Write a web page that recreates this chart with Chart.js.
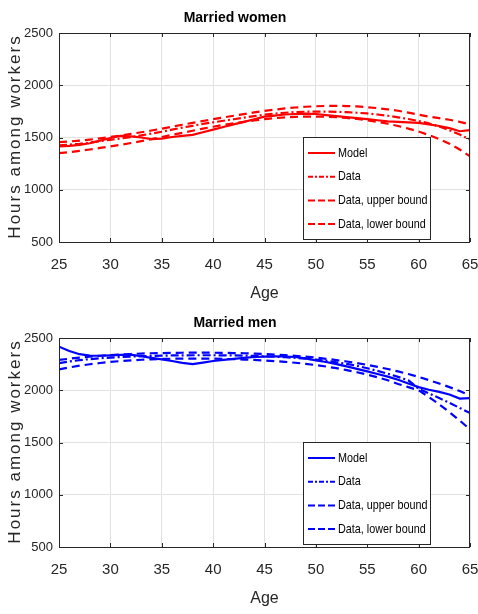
<!DOCTYPE html>
<html>
<head>
<meta charset="utf-8">
<script src="https://cdn.jsdelivr.net/npm/chart.js@4.4.0/dist/chart.umd.min.js"></script>
<style>
  html, body { margin: 0; padding: 0; background: #fff; }
  #wrap { position: relative; width: 478px; height: 614px; }
  .panel { position: absolute; left: 0; width: 478px; height: 307px; }
</style>
</head>
<body>
<div id="wrap">
  <div class="panel" style="top:0"><canvas id="womenChart" width="478" height="307"></canvas></div>
  <div class="panel" style="top:305px"><canvas id="menChart" width="478" height="307"></canvas></div>
</div>
<script>
// Values, one per year of age
const ages = [25, 26, 27, 28, 29, 30, 31, 32, 33, 34, 35, 36, 37, 38, 39, 40, 41, 42, 43, 44, 45,
  46, 47, 48, 49, 50, 51, 52, 53, 54, 55, 56, 57, 58, 59, 60, 61, 62, 63, 64, 65];

const womenModel = [1415, 1420, 1430, 1445, 1470, 1495, 1515, 1510, 1500, 1485, 1490, 1505, 1515, 1525, 1550, 1575,
  1600, 1625, 1650, 1675, 1700, 1710, 1720, 1725, 1728, 1725, 1715, 1705, 1695, 1685, 1675, 1665, 1655, 1650, 1645,
  1640, 1625, 1610, 1590, 1560, 1570];
const womenData = [1425, 1432, 1440, 1452, 1465, 1478, 1490, 1505, 1520, 1538, 1555, 1575, 1595, 1612, 1630, 1645,
  1660, 1675, 1690, 1705, 1718, 1728, 1737, 1743, 1747, 1748, 1748, 1746, 1742, 1737, 1730, 1720, 1708, 1693, 1677,
  1658, 1635, 1605, 1570, 1528, 1480];
const womenUpper = [1455, 1462, 1470, 1480, 1492, 1505, 1520, 1535, 1550, 1567, 1585, 1603, 1622, 1640, 1658, 1675,
  1692, 1708, 1724, 1740, 1755, 1767, 1778, 1787, 1794, 1799, 1802, 1803, 1801, 1797, 1790, 1781, 1770, 1756, 1738,
  1718, 1700, 1685, 1670, 1650, 1625];
const womenLower = [1350, 1360, 1372, 1385, 1400, 1415, 1430, 1447, 1465, 1485, 1505, 1525, 1545, 1565, 1585, 1603,
  1620, 1635, 1650, 1663, 1675, 1685, 1693, 1698, 1700, 1700, 1698, 1694, 1687, 1677, 1665, 1650, 1632, 1610, 1585,
  1557, 1523, 1485, 1440, 1385, 1320];

const menModel = [2417, 2375, 2345, 2332, 2330, 2333, 2338, 2340, 2325, 2310, 2295, 2280, 2262, 2250, 2265, 2280,
  2290, 2300, 2310, 2318, 2322, 2325, 2323, 2318, 2305, 2285, 2270, 2250, 2228, 2205, 2180, 2155, 2130, 2100, 2065,
  2030, 2005, 1985, 1960, 1920, 1925];
const menData = [2260, 2275, 2288, 2298, 2306, 2313, 2318, 2322, 2326, 2329, 2331, 2333, 2334, 2335, 2335, 2335,
  2334, 2333, 2331, 2328, 2325, 2321, 2316, 2310, 2302, 2293, 2282, 2268, 2252, 2234, 2210, 2185, 2158, 2128, 2095,
  2015, 1970, 1925, 1880, 1830, 1783];
const menUpper = [2290, 2302, 2313, 2322, 2330, 2336, 2342, 2347, 2351, 2354, 2356, 2358, 2359, 2360, 2360, 2359,
  2358, 2356, 2354, 2351, 2347, 2342, 2336, 2329, 2321, 2312, 2301, 2289, 2275, 2260, 2243, 2224, 2203, 2180, 2155,
  2127, 2097, 2065, 2030, 1992, 1950];
const menLower = [2200, 2218, 2235, 2249, 2261, 2271, 2279, 2286, 2292, 2296, 2300, 2302, 2303, 2303, 2303, 2302,
  2300, 2297, 2294, 2290, 2285, 2279, 2272, 2263, 2253, 2241, 2227, 2211, 2193, 2172, 2150, 2124, 2096, 2060, 2030,
  2000, 1935, 1865, 1790, 1710, 1625];

const seriesLabels = ["Model", "Data", "Data, upper bound", "Data, lower bound"];
const xTicks = [25, 30, 35, 40, 45, 50, 55, 60, 65];
const yTicks = [500, 1000, 1500, 2000, 2500];

const sans = '"Liberation Sans", Arial, Helvetica, sans-serif';
const lineDash = [[], [8, 3, 2, 3], [8, 5], [8, 5]];
const legendDash = [[], [5, 2, 2, 2], [7, 3], [7, 3]];

// box round the plot area with MATLAB style inward ticks
const frame = {
  id: 'frame',
  afterDraw(chart) {
    const { ctx, chartArea: a, scales } = chart;
    ctx.save();
    ctx.strokeStyle = '#262626';
    ctx.lineWidth = 1;
    ctx.strokeRect(Math.round(a.left) + 0.5, Math.round(a.top) + 0.5,
      Math.round(a.right - a.left) - 1, Math.round(a.bottom - a.top));
    ctx.beginPath();
    yTicks.forEach((v) => {
      const y = Math.round(scales.y.getPixelForValue(v)) + 0.5;
      ctx.moveTo(a.left, y); ctx.lineTo(a.left + 4, y);
      ctx.moveTo(a.right - 4, y); ctx.lineTo(a.right, y);
    });
    xTicks.forEach((v) => {
      const x = Math.round(scales.x.getPixelForValue(v)) + 0.5;
      ctx.moveTo(x, a.bottom); ctx.lineTo(x, a.bottom - 4);
      ctx.moveTo(x, a.top); ctx.lineTo(x, a.top + 4);
    });
    ctx.stroke();
    ctx.restore();
  }
};

// boxed legend in the lower right of the plot
const legendBox = {
  id: 'legendBox',
  afterDraw(chart) {
    const { ctx, chartArea } = chart;
    const w = 127, h = 102;
    const left = Math.round(chartArea.right - 40 - w);
    const top = Math.round(chartArea.bottom - 3 - h);
    ctx.save();
    ctx.fillStyle = '#fff';
    ctx.fillRect(left, top, w, h);
    ctx.strokeStyle = '#262626';
    ctx.lineWidth = 1;
    ctx.strokeRect(left + 0.5, top + 0.5, w, h);
    chart.data.datasets.forEach((ds, i) => {
      const y = top + 16 + i * 23.7;
      ctx.strokeStyle = ds.borderColor;
      ctx.lineWidth = 2;
      ctx.setLineDash(legendDash[i]);
      ctx.beginPath();
      ctx.moveTo(left + 5, y);
      ctx.lineTo(left + 32, y);
      ctx.stroke();
      ctx.setLineDash([]);
      // narrow lettering like the original
      ctx.save();
      ctx.translate(left + 35, y);
      ctx.scale(0.8, 1);
      ctx.fillStyle = '#000';
      ctx.font = '13.5px ' + sans;
      ctx.textBaseline = 'middle';
      ctx.fillText(ds.label, 0, 0);
      ctx.restore();
    });
    ctx.restore();
  }
};

// y axis title, spaced out like the original
const yTitle = {
  id: 'yTitle',
  afterDraw(chart) {
    const { ctx, chartArea } = chart;
    ctx.save();
    ctx.translate(15, (chartArea.top + chartArea.bottom) / 2 - 1);
    ctx.rotate(-Math.PI / 2);
    ctx.font = '17px ' + sans;
    ctx.letterSpacing = '2px';
    ctx.fillStyle = '#262626';
    ctx.textAlign = 'center';
    ctx.textBaseline = 'middle';
    ctx.fillText('Hours among workers', 0, 0);
    ctx.restore();
  }
};

function makeChart(canvasId, title, color, series) {
  const datasets = series.map((values, i) => ({
    label: seriesLabels[i],
    data: ages.map((age, j) => ({ x: age, y: values[j] })),
    borderColor: color,
    borderWidth: 2.2,
    borderDash: lineDash[i],
    pointRadius: 0,
    fill: false,
    tension: 0,
  }));

  return new Chart(document.getElementById(canvasId), {
    type: 'line',
    data: { datasets },
    options: {
      responsive: false,
      animation: false,
      layout: { padding: { left: 0, right: 8, top: 0, bottom: 0 } },
      plugins: {
        legend: { display: false },
        tooltip: { enabled: false },
        title: {
          display: true,
          text: title,
          color: '#000',
          font: { family: sans, size: 14, weight: 'bold' },
          padding: { top: 10, bottom: 6.2 },
        },
      },
      scales: {
        x: {
          type: 'linear',
          min: 25,
          max: 65,
          afterBuildTicks: (s) => { s.ticks = xTicks.map((v) => ({ value: v })); },
          afterFit: (s) => { s.height = 65; s.paddingLeft = 0; s.paddingRight = 0; },
          ticks: {
            font: { family: sans, size: 15 },
            color: '#262626',
            padding: 14,
            maxRotation: 0,
            callback: (v) => String(v),
          },
          grid: { color: '#e2e2e2', drawTicks: false },
          border: { display: false },
          title: {
            display: true,
            text: 'Age',
            color: '#262626',
            font: { family: sans, size: 16 },
            padding: { top: 0, bottom: 4 },
          },
        },
        y: {
          min: 500,
          max: 2500,
          afterBuildTicks: (s) => { s.ticks = yTicks.map((v) => ({ value: v })); },
          afterFit: (s) => { s.width = 59; s.paddingTop = 0; s.paddingBottom = 0; },
          ticks: {
            font: { family: sans, size: 13 },
            color: '#262626',
            padding: 6,
            callback: (v) => String(v),
          },
          grid: { color: '#e2e2e2', drawTicks: false },
          border: { display: false },
        },
      },
    },
    plugins: [frame, legendBox, yTitle],
  });
}

makeChart('womenChart', 'Married women', '#ff0000', [womenModel, womenData, womenUpper, womenLower]);
makeChart('menChart', 'Married men', '#0000ff', [menModel, menData, menUpper, menLower]);
</script>
</body>
</html>
